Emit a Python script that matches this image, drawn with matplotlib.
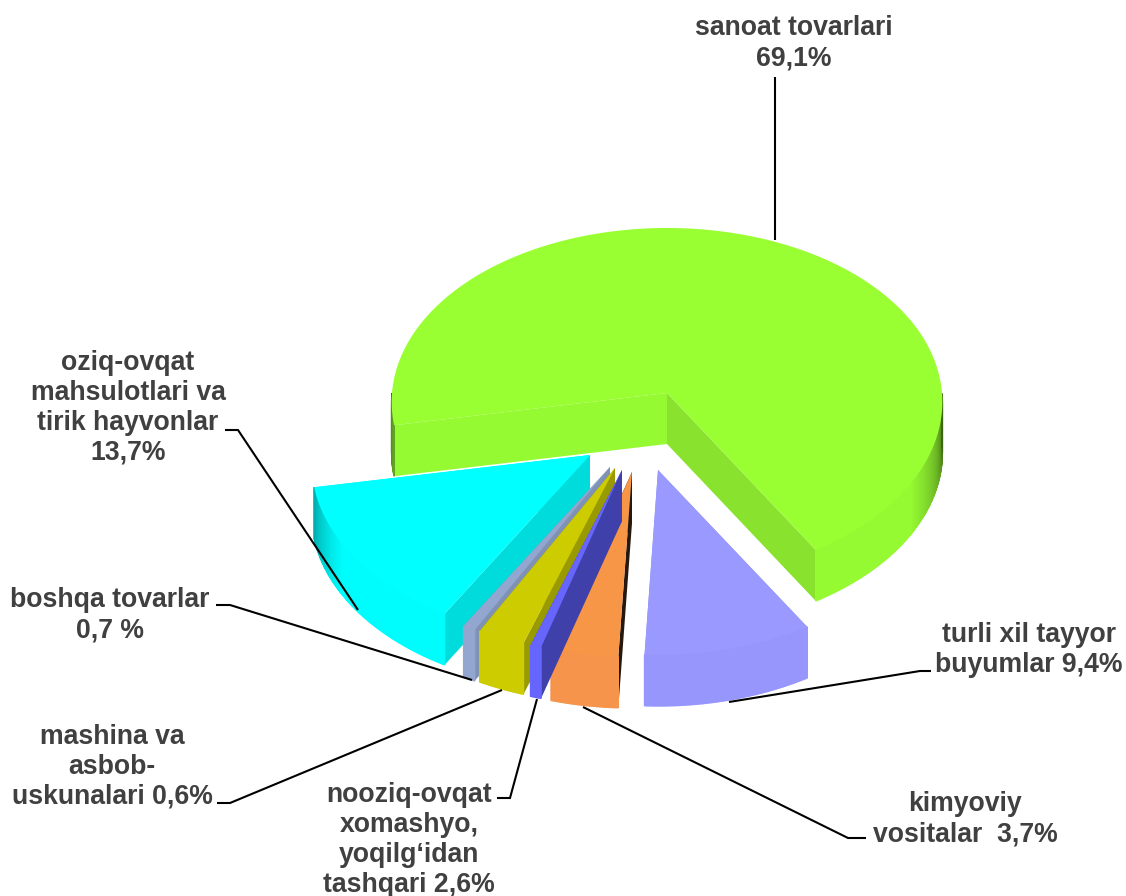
#!/usr/bin/env python3
# -*- coding: utf-8 -*-
import numpy as np
import matplotlib
matplotlib.use("Agg")
import matplotlib.pyplot as plt
from matplotlib.patches import Polygon

plt.rcParams['font.family'] = ['Liberation Sans', 'DejaVu Sans']

# shares in drawing order, going counter clockwise from the left edge of the big slice
names = ["oziq-ovqat", "boshqa", "mashina", "nooziq", "kimyoviy", "turli", "sanoat"]
shares = [13.7, 0.7, 2.6, 0.6, 3.7, 9.4, 69.1]

top_colors = ["#00ffff", "#92a6cf", "#cccc00", "#6666ff", "#f79646", "#9999ff", "#99ff33"]
side_colors = ["#00dcdc", "#7f92b4", "#999900", "#4040aa", "#26180c", "#8c8cf0", "#88e22e"]
wall_colors = ["#00fdfd", "#92a6cf", "#cccc00", "#6666ff", "#f5944a", "#9696fc", "#95fa32"]

# apex of every exploded slice on the top surface, pixels
apex_x = [590, 610, 615, 622, 632, 658, 667]
apex_y = [455, 467, 468, 470, 472, 470, 393]
radius_x = [278, 280, 280, 280, 280, 276, 275]

labels = ["sanoat tovarlari\n69,1%",
          "turli xil tayyor\nbuyumlar 9,4%",
          "kimyoviy\nvositalar  3,7%",
          "nooziq-ovqat\nxomashyo,\nyoqilg\u2018idan\ntashqari 2,6%",
          "mashina va\nasbob-\nuskunalari 0,6%",
          "boshqa tovarlar\n0,7 %",
          "oziq-ovqat\nmahsulotlari va\ntirik hayvonlar\n13,7%"]
label_x = [794, 1029, 965, 409, 112, 110, 128]
label_y = [43, 650, 819, 840, 767, 615, 408]

leaders = [([775, 775], [77, 240]),
           ([931, 920, 729], [671, 671, 702]),
           ([866, 848, 583], [838, 838, 707]),
           ([497, 510, 537], [798, 798, 699]),
           ([217, 230, 502], [803, 803, 690]),
           ([216, 230, 472], [605, 605, 680]),
           ([225, 238, 358], [430, 430, 610])]

RY = 175
TILT = 0.057
WIDEN = 0.05
DEPTH = 51
START = 190.5


def project(cx, cy, rx, theta):
    t = np.radians(theta)
    x = cx + rx * np.cos(t) * (1 - WIDEN * np.sin(t))
    y = cy - RY * np.sin(t) * (1 - TILT * np.sin(t))
    return x, y


def shade(color, theta):
    # outer wall goes dark where it turns away from the viewer
    v = -np.sin(np.radians(theta))
    f = np.clip(v / 0.5, 0.0, 1.0) ** 0.8
    f = 0.38 + 0.62 * f
    return tuple(c * f for c in matplotlib.colors.to_rgb(color))


def draw_slice(ax, cx, cy, rx, a0, a1, top, side, wall):
    angles = np.linspace(a0, a1, max(int((a1 - a0) * 2), 2) + 1)
    xs, ys = project(cx, cy, rx, angles)

    # flat walls along both cuts
    for a in (a0, a1):
        x, y = project(cx, cy, rx, a)
        ax.add_patch(Polygon([(cx, cy), (x, y), (x, y + DEPTH), (cx, cy + DEPTH)],
                             closed=True, fc=side if a % 360 > 200 else wall,
                             ec="none"))

    # curved outer wall in thin strips, only the part facing the viewer
    for i in range(len(angles) - 1):
        mid = (angles[i] + angles[i + 1]) / 2
        if np.sin(np.radians(mid)) > 0:
            continue
        quad = [(xs[i], ys[i]), (xs[i + 1], ys[i + 1]),
                (xs[i + 1], ys[i + 1] + DEPTH), (xs[i], ys[i] + DEPTH)]
        c = shade(wall, mid)
        ax.add_patch(Polygon(quad, closed=True, fc=c, ec=c, lw=1.0))

    pts = [(cx, cy)] + list(zip(xs, ys))
    ax.add_patch(Polygon(pts, closed=True, fc=top, ec="none"))


fig = plt.figure(figsize=(11.26, 8.96), dpi=100)
ax = fig.add_axes([0, 0, 1, 1])
ax.set_xlim(0, 1126)
ax.set_ylim(896, 0)
ax.axis("off")

sweep = 360.0 * np.array(shares) / sum(shares)
ends = START + np.cumsum(sweep)
starts = ends - sweep

# big slice first, the ones in front of it on top
for i in [6, 0, 5, 1, 4, 2, 3]:
    draw_slice(ax, apex_x[i], apex_y[i], radius_x[i], starts[i], ends[i],
               top_colors[i], side_colors[i], wall_colors[i])

for lx, ly in leaders:
    ax.plot(lx, ly, color="black", lw=1.5, solid_capstyle="butt", solid_joinstyle="miter")

for text, x, y in zip(labels, label_x, label_y):
    ax.text(x, y, text, ha="center", va="center", fontsize=19.2, fontweight="bold",
            color="#404040", linespacing=1.2, clip_on=False)

fig.savefig("out.png", dpi=100)
plt.close(fig)
